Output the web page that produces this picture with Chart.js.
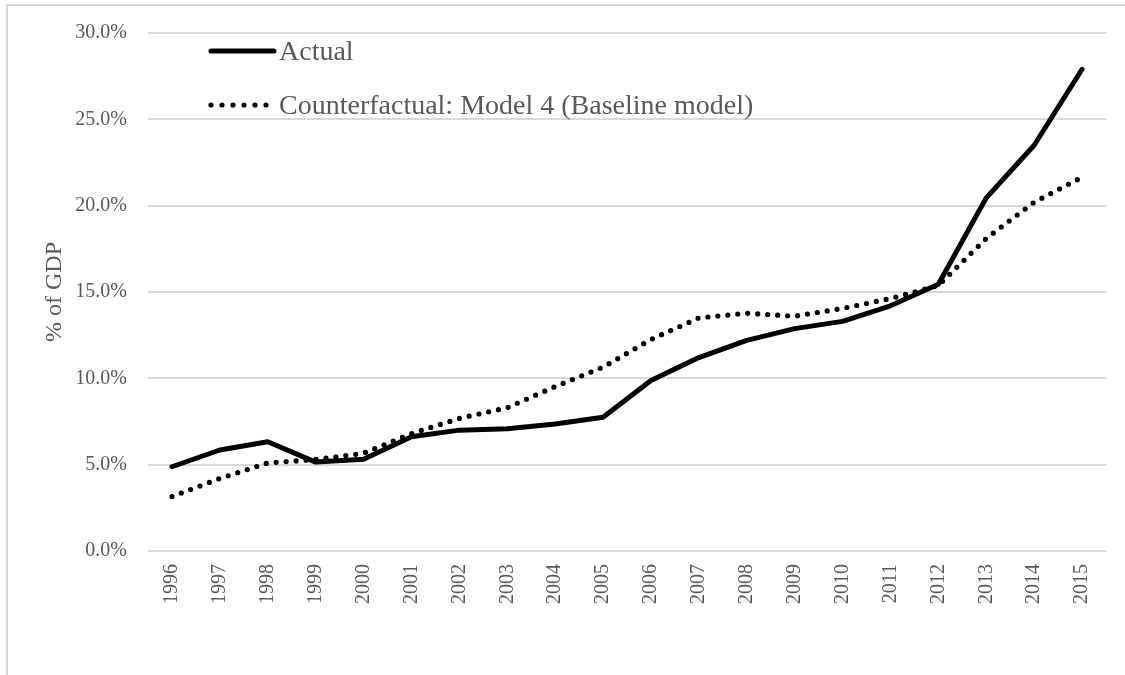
<!DOCTYPE html>
<html>
<head>
<meta charset="utf-8">
<script src="https://cdn.jsdelivr.net/npm/chart.js@4/dist/chart.umd.min.js"></script>
<style>
  html, body { margin: 0; padding: 0; background: #ffffff; }
  #wrap { position: relative; width: 1125px; height: 675px; overflow: hidden; }
  #frame { position: absolute; left: 6px; top: 4px; width: 1300px; height: 800px; border: 2px solid #d9d9d9; box-sizing: border-box; }
  canvas { position: absolute; left: 0; top: 0; }
</style>
</head>
<body>
<div id="wrap">
  <div id="frame"></div>
  <canvas id="c" width="1125" height="675"></canvas>
</div>
<script>
const years = ['1996','1997','1998','1999','2000','2001','2002','2003','2004','2005',
               '2006','2007','2008','2009','2010','2011','2012','2013','2014','2015'];
const actual = [4.88, 5.85, 6.33, 5.15, 5.31, 6.62, 7.00, 7.08, 7.35, 7.75,
                9.87, 11.20, 12.20, 12.88, 13.30, 14.20, 15.45, 20.45, 23.50, 27.90];
const counterfactual = [3.15, 4.20, 5.10, 5.30, 5.66, 6.80, 7.68, 8.30, 9.52, 10.65,
                        12.25, 13.50, 13.77, 13.60, 14.05, 14.62, 15.38, 18.10, 20.20, 21.65];
const seriesLabels = ['Actual', 'Counterfactual: Model 4 (Baseline model)'];
const yTitle = '% of GDP';

const FONT = "'Liberation Serif', 'Times New Roman', serif";
const GREY = '#595959';

const insideLegend = {
  id: 'insideLegend',
  afterDraw(chart) {
    const ctx = chart.ctx;
    const a = chart.chartArea;
    const rows = [{y: 51, base: 60}, {y: 105, base: 114}];
    chart.data.datasets.forEach((ds, i) => {
      const r = rows[i];
      ctx.save();
      ctx.strokeStyle = ds.borderColor;
      ctx.lineWidth = ds.borderWidth;
      ctx.lineCap = ds.borderCapStyle || 'butt';
      ctx.setLineDash(ds.borderDash ? [0, 11] : []);
      ctx.beginPath();
      const x0 = a.left + 63, x1 = a.left + 126;
      ctx.moveTo(x0, r.y);
      ctx.lineTo(x1, r.y);
      ctx.stroke();
      ctx.setLineDash([]);
      ctx.fillStyle = GREY;
      ctx.font = '28px ' + FONT;
      ctx.textBaseline = 'alphabetic';
      ctx.textAlign = 'left';
      ctx.fillText(ds.label, a.left + 131, r.base);
      ctx.restore();
    });
  }
};

new Chart(document.getElementById('c'), {
  type: 'line',
  data: {
    labels: years,
    datasets: [
      {
        label: seriesLabels[0],
        data: actual,
        borderColor: '#000000',
        borderWidth: 5,
        borderCapStyle: 'round',
        borderJoinStyle: 'round',
        pointRadius: 0,
        tension: 0,
        fill: false
      },
      {
        label: seriesLabels[1],
        data: counterfactual,
        borderColor: '#000000',
        borderWidth: 5.2,
        borderDash: [0, 10],
        borderCapStyle: 'round',
        borderJoinStyle: 'round',
        pointRadius: 0,
        tension: 0,
        fill: false
      }
    ]
  },
  options: {
    responsive: false,
    animation: false,
    devicePixelRatio: 1,
    layout: { padding: { left: 0, top: 32, right: 19, bottom: 0 } },
    plugins: {
      legend: { display: false },
      tooltip: { enabled: false }
    },
    scales: {
      x: {
        type: 'category',
        offset: true,
        grid: { display: false, drawTicks: false },
        border: { display: false },
        ticks: {
          color: GREY,
          font: { family: FONT, size: 20 },
          maxRotation: 90,
          minRotation: 90,
          padding: 13,
          autoSkip: false
        },
        afterFit(scale) { scale.height = 124; }
      },
      y: {
        min: 0,
        max: 30,
        grid: { color: '#d9d9d9', lineWidth: 2, drawTicks: false },
        border: { display: false },
        ticks: {
          stepSize: 5,
          color: GREY,
          font: { family: FONT, size: 20 },
          padding: 21,
          callback: v => v.toFixed(1) + '%'
        },
        title: {
          display: true,
          text: yTitle,
          color: GREY,
          font: { family: FONT, size: 24 },
          padding: { top: 40, bottom: 0 }
        },
        afterFit(scale) { scale.width = 148; }
      }
    }
  },
  plugins: [insideLegend]
});
</script>
</body>
</html>
